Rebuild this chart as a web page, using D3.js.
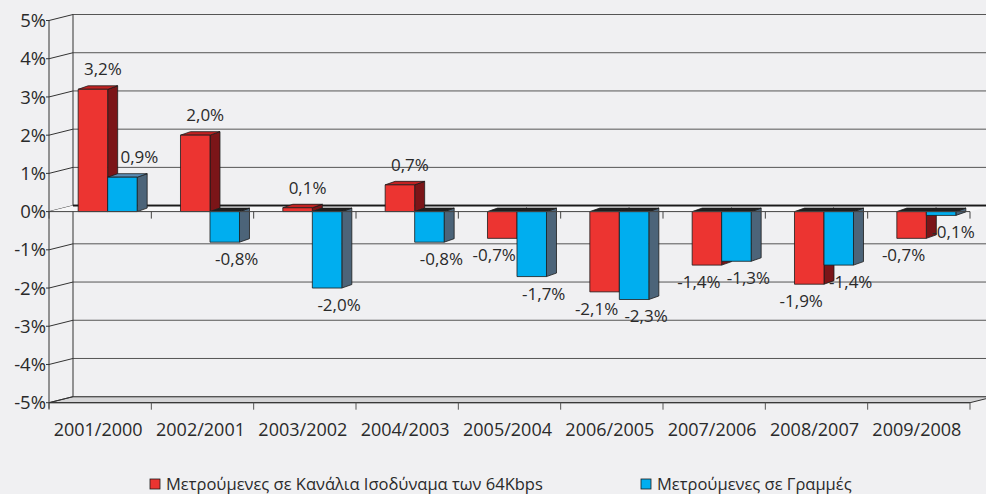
<!DOCTYPE html>
<html><head><meta charset="utf-8">
<script src="https://cdn.jsdelivr.net/npm/d3@7"></script>
<style>
html,body{margin:0;padding:0;background:#f0f0f2;}
svg{display:block;font-family:"Open Sans",sans-serif;}
</style></head>
<body><svg id="c" width="986" height="494"></svg>
<script>
const categories = ["2001/2000","2002/2001","2003/2002","2004/2003","2005/2004","2006/2005","2007/2006","2008/2007","2009/2008"];
const seriesNames = ["Μετρούμενες σε Κανάλια Ισοδύναμα των 64Kbps","Μετρούμενες σε Γραμμές"];
const channels = [3.2, 2.0, 0.1, 0.7, -0.7, -2.1, -1.4, -1.9, -0.7];
const lines = [0.9, -0.8, -2.0, -0.8, -1.7, -2.3, -1.3, -1.4, -0.1];
const yTicks = [-5,-4,-3,-2,-1,0,1,2,3,4,5];

const svg = d3.select("#c");
const W = 986, H = 494;
svg.append("rect").attr("width",W).attr("height",H).attr("fill","#f0f0f2");

const DX = 24, DY = -6;          // chart depth offset
const BDX = 10, BDY = -3.5;      // bar depth offset
const y = d3.scaleLinear().domain([-5,5]).range([402.7,20.5]);
const yb = v => y(v) + DY;
const x = d3.scaleBand().domain(categories).range([49,970]);
const bw = x.bandwidth();
const x1 = d3.scaleBand().domain([0,1]).range([bw*0.285, bw*0.285 + 59]);
const colors = {front:["#ec3431","#00aeef"], side:["#7b1518","#4c6479"], top:["#c22222","#5a8db5"]};
const fmt = v => (v.toFixed(1)).replace(".",",") + "%";

const g = svg.append("g");
const x0 = 49, xEnd = 970;

// floor
g.append("path")
  .attr("d", `M${x0},${y(-5)}L${xEnd},${y(-5)}L${xEnd+DX},${yb(-5)}L${x0+DX},${yb(-5)}Z`)
  .attr("fill","#d5d5d7").attr("stroke","#333").attr("stroke-width",1);

// back wall gridlines
yTicks.forEach(v=>{
  g.append("line").attr("x1",x0+DX).attr("x2",W).attr("y1",yb(v)).attr("y2",yb(v))
    .attr("stroke", v===0 ? "#1a1a1a" : "#555").attr("stroke-width", v===0 ? 1.6 : 1);
  g.append("line").attr("x1",x0).attr("x2",x0+DX).attr("y1",y(v)).attr("y2",yb(v))
    .attr("stroke","#333").attr("stroke-width",1);
  g.append("line").attr("x1",x0-3).attr("x2",x0).attr("y1",y(v)).attr("y2",y(v))
    .attr("stroke","#333").attr("stroke-width",1);
  g.append("text").attr("x",46).attr("y",y(v)).attr("dy","0.36em")
    .attr("text-anchor","end").attr("font-size",18.5).attr("fill","#2a2a2a")
    .text(v+"%");
});
g.append("line").attr("x1",x0+DX).attr("x2",x0+DX).attr("y1",yb(5)).attr("y2",yb(-5)).attr("stroke","#333");
g.append("line").attr("x1",x0).attr("x2",x0).attr("y1",y(5)).attr("y2",y(-5)+6).attr("stroke","#333");

// zero plane
g.append("path")
  .attr("d", `M${x0},${y(0)}L${xEnd},${y(0)}L${xEnd+DX},${yb(0)}L${x0+DX},${yb(0)}Z`)
  .attr("fill","#f7f7f8").attr("stroke","none");
g.append("line").attr("x1",x0+DX).attr("x2",W).attr("y1",yb(0)).attr("y2",yb(0)).attr("stroke","#1a1a1a").attr("stroke-width",1.6);

// bottom front line & ticks
const bounds = categories.map(c=>x(c)).concat([xEnd]);
g.append("line").attr("x1",x0).attr("x2",xEnd).attr("y1",y(-5)).attr("y2",y(-5)).attr("stroke","#333");
bounds.forEach(b=>{
  g.append("line").attr("x1",b).attr("x2",b).attr("y1",y(-5)).attr("y2",y(-5)+7).attr("stroke","#555");
});

// bars
const data = categories.map((c,i)=>({c, vals:[channels[i], lines[i]]}));
const barsG = svg.append("g");
function drawBar(c, s, v){
  const xl = x(c) + x1(s), xr = xl + x1.bandwidth();
  const yTop = v >= 0 ? y(v) : y(0);
  const yBot = v >= 0 ? y(0) : y(v);
  const bg = barsG.append("g").attr("stroke","#1c1c1c").attr("stroke-width",0.8).attr("stroke-linejoin","round");
  bg.append("path").attr("d",`M${xr},${yTop}L${xr+BDX},${yTop+BDY}L${xr+BDX},${yBot+BDY}L${xr},${yBot}Z`)
    .attr("fill",colors.side[s]);
  bg.append("path").attr("d",`M${xl},${yTop}L${xl+BDX},${yTop+BDY}L${xr+BDX},${yTop+BDY}L${xr},${yTop}Z`)
    .attr("fill", v >= 0 ? colors.top[s] : "#1e1e1e");
  bg.append("rect").attr("x",xl).attr("y",yTop).attr("width",xr-xl).attr("height",Math.max(yBot-yTop,0.5))
    .attr("fill",colors.front[s]);
}
data.forEach(d=>{ drawBar(d.c,0,d.vals[0]); drawBar(d.c,1,d.vals[1]); });

// front zero axis line with ticks
svg.append("line").attr("x1",x0).attr("x2",xEnd).attr("y1",y(0)).attr("y2",y(0)).attr("stroke","#444").attr("stroke-width",1);
bounds.forEach(b=>{
  svg.append("line").attr("x1",b).attr("x2",b).attr("y1",y(0)).attr("y2",y(0)+7).attr("stroke","#444");
});

// value labels
data.forEach(d=>{
  d.vals.forEach((v,s)=>{
    const cx = x(d.c) + x1(s) + x1.bandwidth()/2;
    let tx, ty;
    if (v >= 0){ tx = cx + (s===0?10:17); ty = y(v) - 20; }
    else { tx = cx + (s===0?-8:12); ty = y(v) + (s===0?17:17); }
    svg.append("text").attr("x",tx).attr("y",ty).attr("dy","0.35em")
      .attr("text-anchor","middle").attr("font-size",17).attr("fill","#2a2a2a").text(fmt(v));
  });
});

// category labels
categories.forEach((c,i)=>{
  svg.append("text").attr("x",x(c)+bw/2 - 2).attr("y",436)
    .attr("text-anchor","middle").attr("font-size",18).attr("fill","#2a2a2a").text(c);
});

// legend
const legX = [150, 641];
seriesNames.forEach((n,s)=>{
  svg.append("rect").attr("x",legX[s]).attr("y",479).attr("width",10).attr("height",10)
    .attr("fill",colors.front[s]).attr("stroke","#1c1c1c").attr("stroke-width",0.8);
  svg.append("text").attr("x",legX[s]+16).attr("y",489.5).attr("font-size",16.5).attr("fill","#2a2a2a").text(n);
});
</script></body></html>
